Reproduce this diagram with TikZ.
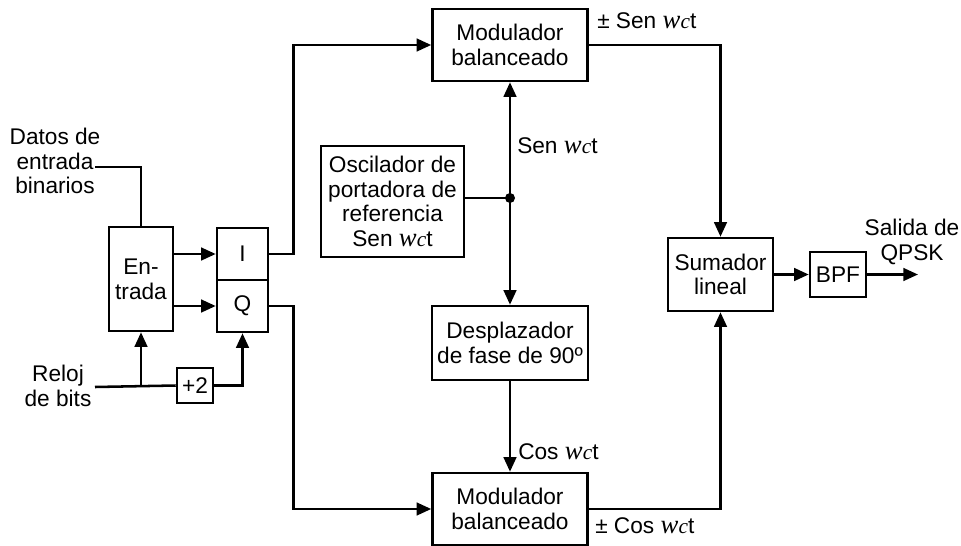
\documentclass[tikz,border=0pt]{standalone}
\usepackage{fontspec}
\setmainfont{Liberation Sans}
\newfontfamily\wfont{Liberation Serif}
\usetikzlibrary{arrows.meta}
\newcommand{\wct}{{\wfont\itshape\fontsize{20}{20}\selectfont w\kern0.2pt{\fontsize{16}{16}\selectfont c}}t}
\begin{document}
\begin{tikzpicture}[x=0.75pt,y=-0.75pt,
 every node/.style={font=\fontsize{17}{18.5}\selectfont, inner sep=0pt},
 blk/.style={draw, line width=1.9pt, align=center, fill=white},
 conn/.style={line width=1.9pt},
 arr/.style={conn, -{Triangle[length=11pt,width=9.5pt]}},
 lbl/.style={align=center}]
\useasboundingbox[fill=white] (0,0) rectangle (961,546);
% blocks
\node[blk, minimum width=48pt, minimum height=78pt] (ent) at (141,279) {En-\\trada};
\node[blk, minimum width=38.25pt, minimum height=39pt] (I) at (242.5,254) {I};
\node[blk, minimum width=38.25pt, minimum height=39pt] (Q) at (242.5,306) {Q};
\node[blk, minimum width=27pt, minimum height=26.25pt] (div) at (195,385.5) {+2};
\node[blk, minimum width=116.25pt, minimum height=54pt] (mod1) at (510,45) {Modulador\\balanceado};
\node[blk, minimum width=107.25pt, minimum height=83.25pt] (osc) at (392.5,201.5) {Oscilador de\\portadora de\\referencia\\Sen \wct};
\node[blk, minimum width=117pt, minimum height=55.5pt] (desp) at (510,343) {Desplazador\\de fase de 90º};
\node[blk, minimum width=116.25pt, minimum height=54pt] (mod2) at (510,509) {Modulador\\balanceado};
\node[blk, minimum width=78.75pt, minimum height=54.75pt] (sum) at (720.5,274.5) {Sumador\\lineal};
\node[blk, minimum width=42pt, minimum height=33.75pt] (bpf) at (838,274.5) {BPF};
% text labels
\node[lbl] (datos) at (55,161) {Datos de\\entrada\\binarios};
\node[lbl] (reloj) at (58,386) {Reloj\\de bits};
\node[lbl] (salida) at (912,242) {Salida de\\QPSK};
\node[anchor=west] (l1) at (597,21) {± Sen \wct};
\node[anchor=west] (l2) at (517,146) {Sen \wct};
\node[anchor=west] (l3) at (518,452) {Cos \wct};
\node[anchor=west] (l4) at (595,526) {± Cos \wct};
% coordinates
\coordinate (din) at (95,167);
\coordinate (clk) at (95,387);
\coordinate (jn) at (510,198);
\coordinate (out) at (918,274.5);
% connectors
\draw[conn] (din) -| (ent.north);
\draw[conn] (clk) -- (div.west);
\draw[arr] (ent.south |- clk) -- (ent.south);
\draw[arr] (div.east) -| (Q.south);
\draw[arr] (ent.east |- I.center) -- (I.west);
\draw[arr] (ent.east |- Q.center) -- (Q.west);
\draw[arr] (I.east) -- ++(24,0) |- (mod1.west);
\draw[arr] (Q.east) -- ++(24,0) |- (mod2.west);
\draw[conn] (osc.east |- jn) -- (jn);
\draw[arr] (jn) -- (mod1.south);
\draw[arr] (jn) -- (desp.north);
\draw[arr] (desp.south) -- (mod2.north);
\fill (jn) circle (5);
\draw[arr] (mod1.east) -| (sum.north);
\draw[arr] (mod2.east) -| (sum.south);
\draw[arr] (sum.east) -- (bpf.west);
\draw[arr] (bpf.east) -- (out);
\end{tikzpicture}
\end{document}
